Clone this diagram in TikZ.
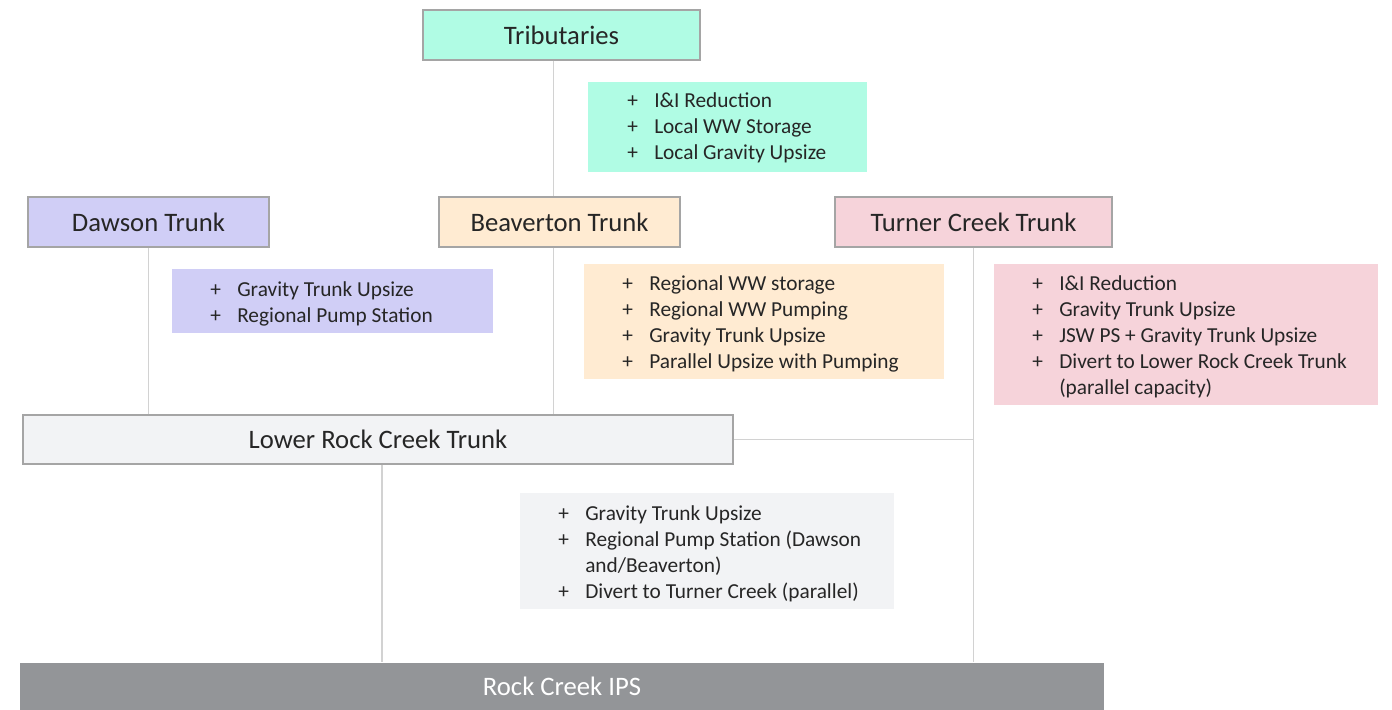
\documentclass[tikz,border=0pt]{standalone}
\usepackage{fontspec}
\setmainfont{Carlito}
\usepackage{array}
\definecolor{txt}{RGB}{38,38,38}
\definecolor{bord}{RGB}{165,165,165}
\definecolor{conn}{RGB}{210,210,210}
\definecolor{mint}{RGB}{176,252,228}
\definecolor{lav}{RGB}{208,206,246}
\definecolor{peach}{RGB}{255,235,210}
\definecolor{pinkc}{RGB}{246,211,218}
\definecolor{lgray}{RGB}{242,243,245}
\definecolor{ipsgray}{RGB}{147,149,152}
\newcommand{\plist}[1]{\begin{tabular}[t]{@{}p{20.25pt}@{}l@{}}#1\end{tabular}}
\begin{document}
\begin{tikzpicture}[x=0.75pt,y=-0.75pt,
  title/.style={draw=bord,line width=1pt,inner sep=0pt,minimum height=37.5pt,
    text=txt,font=\fontsize{20}{24}\selectfont},
  listbg/.style={anchor=north west,inner sep=0pt,draw=none},
  listtxt/.style={anchor=base west,inner sep=0pt,text=txt,
    font=\fontsize{16}{19.5}\selectfont},
  link/.style={draw=conn,line width=0.9pt}]
\useasboundingbox (0,0) rectangle (1392,710);

% title boxes
\node[title,fill=mint,minimum width=207.75pt] (trib) at (561.5,35) {Tributaries};
\node[title,fill=lav,minimum width=180.75pt] (daw) at (148.5,222) {Dawson Trunk};
\node[title,fill=peach,minimum width=180.75pt] (beav) at (559.5,222) {Beaverton Trunk};
\node[title,fill=pinkc,minimum width=207.75pt] (turn) at (973.5,222) {Turner Creek Trunk};
\node[title,fill=lgray,minimum width=532.5pt,minimum height=36.75pt] (lrc) at (378,439.5) {Lower Rock Creek Trunk};
\node[title,draw=none,fill=ipsgray,text=white,minimum width=813pt,minimum height=35.25pt] (ips) at (562,686.5) {Rock Creek IPS};

% list backgrounds
\node[listbg,fill=mint,minimum width=209.25pt,minimum height=67.5pt] (tribbg) at (588,82) {};
\node[listbg,fill=lav,minimum width=240.75pt,minimum height=48pt] (dawbg) at (172,269) {};
\node[listbg,fill=peach,minimum width=270pt,minimum height=86.25pt] (beavbg) at (584,264) {};
\node[listbg,fill=pinkc,minimum width=288pt,minimum height=105.75pt] (turnbg) at (994,264) {};
\node[listbg,fill=lgray,minimum width=280.5pt,minimum height=87pt] (lrcbg) at (520,493) {};

% list texts
\node[listtxt] (tribl) at (627,108) {\plist{+ & I\&I Reduction\\ + & Local WW Storage\\ + & Local Gravity Upsize}};
\node[listtxt] (dawl) at (210,296) {\plist{+ & Gravity Trunk Upsize\\ + & Regional Pump Station}};
\node[listtxt] (beavl) at (622,290) {\plist{+ & Regional WW storage\\ + & Regional WW Pumping\\ + & Gravity Trunk Upsize\\ + & Parallel Upsize with Pumping}};
\node[listtxt] (turnl) at (1032,290) {\plist{+ & I\&I Reduction\\ + & Gravity Trunk Upsize\\ + & JSW PS + Gravity Trunk Upsize\\ + & Divert to Lower Rock Creek Trunk\\ & (parallel capacity)}};
\node[listtxt] (lrcl) at (558,520) {\plist{+ & Gravity Trunk Upsize\\ + & Regional Pump Station (Dawson\\ & and/Beaverton)\\ + & Divert to Turner Creek (parallel)}};

% connectors
\coordinate (cB) at (553.5,0);
\coordinate (cL) at (382,0);
\begin{scope}[on background layer/.try]
\end{scope}
\draw[link] (trib.south -| cB) -- (beav.north -| cB);
\draw[link] (daw.south) -- (daw.south |- lrc.north);
\draw[link] (beav.south -| cB) -- (lrc.north -| cB);
\draw[link] (turn.south) -- (turn.south |- ips.north);
\draw[link] (lrc.east) -- (lrc.east -| turn.south);
\draw[link] (lrc.south -| cL) -- (ips.north -| cL);
\end{tikzpicture}
\end{document}
